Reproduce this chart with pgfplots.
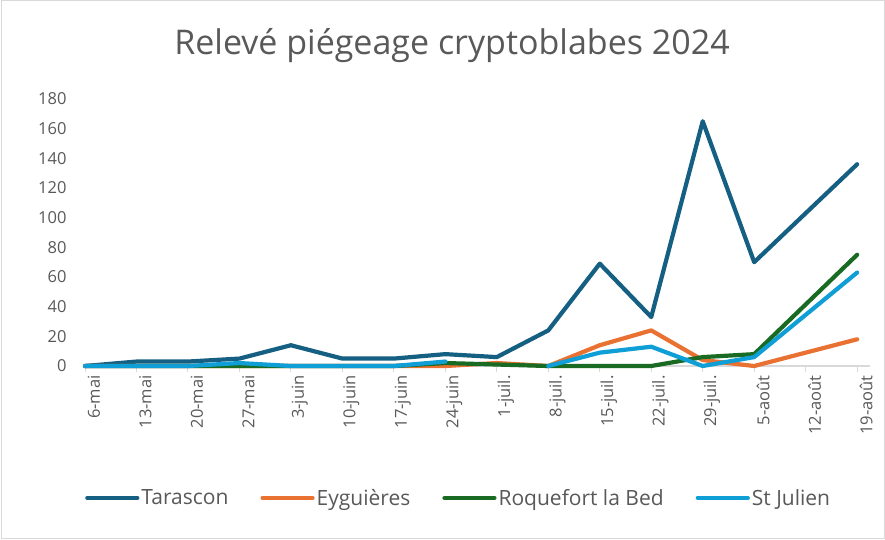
\documentclass[border=0pt]{standalone}
\usepackage{pgfplots}
\pgfplotsset{compat=1.18}
\usepackage{fontspec}
\setmainfont{Open Sans}
\definecolor{cTar}{HTML}{156082}
\definecolor{cEyg}{HTML}{E97132}
\definecolor{cRoq}{HTML}{196B24}
\definecolor{cStJ}{HTML}{0F9ED5}
\definecolor{txt}{HTML}{595959}
\definecolor{axl}{HTML}{D9D9D9}
\begin{document}
\begin{tikzpicture}[x=1pt,y=1pt]
\useasboundingbox (0,0) rectangle (885,539);
\fill[white] (0,0) rectangle (885,539);
\draw[axl, line width=1pt] (1,1) rectangle (884,538);
\node[txt, font=\fontsize{34}{39}\selectfont] at (452,493) {Relevé piégeage cryptoblabes 2024};
\begin{axis}[
  at={(85pt,173pt)}, anchor=south west,
  scale only axis, width=785pt, height=267pt,
  xmin=0, xmax=15.25, ymin=0, ymax=180,
  axis lines*=left,
  x axis line style={axl, line width=1.5pt, -},
  y axis line style={draw=none},
  xtick={0,...,15},
  xticklabels={6-mai,13-mai,20-mai,27-mai,3-juin,10-juin,17-juin,24-juin,1-juil.,8-juil.,15-juil.,22-juil.,29-juil.,5-août,12-août,19-août},
  x tick label style={rotate=90, anchor=east, font=\fontsize{16.5}{19}\selectfont, text=txt},
  ytick={0,20,...,180},
  y tick label style={font=\fontsize{16.5}{19}\selectfont, text=txt},
  /pgf/number format/assume math mode=true,
  tick align=outside,
  x tick style={axl, line width=1pt},
  major tick length=6pt,
  y tick style={draw=none},
  yticklabel style={xshift=-9pt},
  xticklabel style={yshift=-9pt},
  unbounded coords=jump,
  every axis plot/.append style={line width=4.2pt, line cap=round, line join=round},
  legend style={at={(0.476,-0.494)}, anchor=center, draw=none, legend columns=4,
    font=\fontsize{21}{24}\selectfont, text=txt,
    /tikz/every even column/.append style={column sep=30pt}},
  legend image code/.code={\draw[#1] (0pt,0pt) -- (50pt,0pt);},
  clip=false,
]
\addplot[cTar] coordinates {(0,0) (1,3) (2,3) (3,5) (4,14) (5,5) (6,5) (7,8) (8,6) (9,24) (10,69) (11,33) (12,165) (13,70) (15,136)};
\addlegendentry{Tarascon}
\addplot[cEyg] coordinates {(0,0) (1,0) (2,0) (3,0) (4,0) (5,0) (6,0) (7,0) (8,2) (9,0) (10,14) (11,24) (12,4) (13,0) (15,18)};
\addlegendentry{Eyguières}
\addplot[cRoq] coordinates {(0,0) (1,0) (2,0) (3,0) (4,0) (5,0) (6,0) (7,2) (8,1) (9,0) (10,0) (11,0) (12,6) (13,8) (15,75)};
\addlegendentry{Roquefort la Bed}
\addplot[cStJ] coordinates {(0,0) (1,0) (2,0) (3,2) (4,0) (5,0) (6,0) (7,3) (8,nan) (9,0) (10,9) (11,13) (12,0) (13,6) (15,63)};
\addlegendentry{St Julien}
\end{axis}
\end{tikzpicture}
\end{document}
